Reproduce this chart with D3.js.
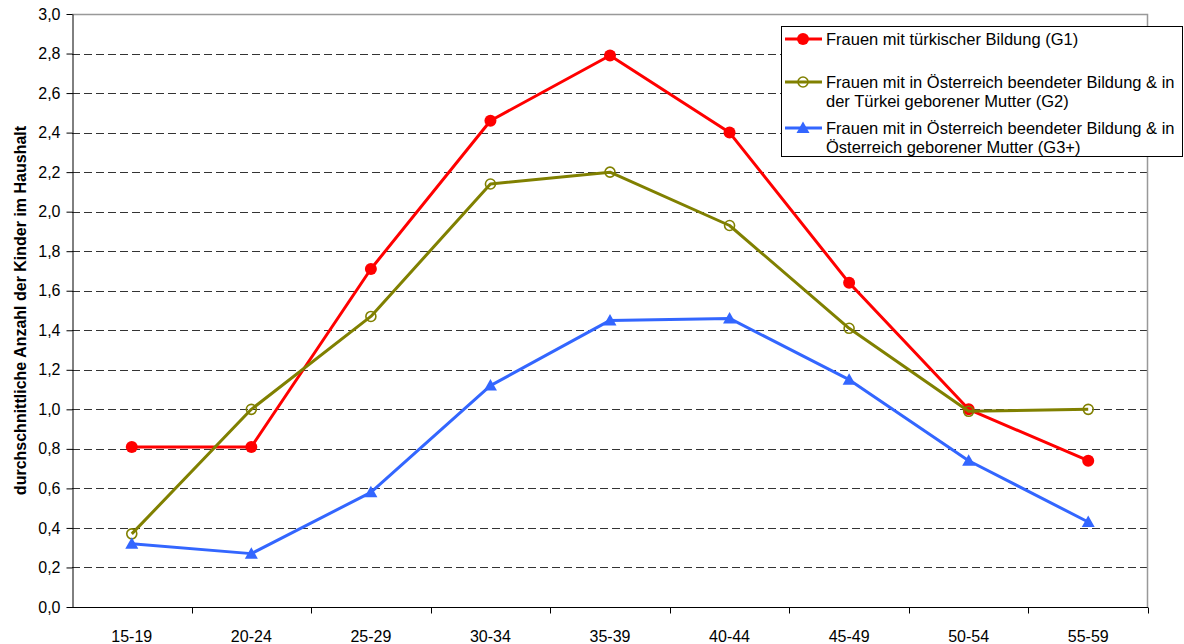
<!DOCTYPE html>
<html>
<head>
<meta charset="utf-8">
<script src="https://cdn.jsdelivr.net/npm/d3@7"></script>
<style>
  html, body { margin: 0; padding: 0; background: #fff; }
  svg { display: block; font-family: "Liberation Sans", Arial, sans-serif; }
</style>
</head>
<body>
<svg id="chart" width="1184" height="644"></svg>
<script>
// Age groups on the x axis
const ageGroups = ["15-19", "20-24", "25-29", "30-34", "35-39", "40-44", "45-49", "50-54", "55-59"];

// Average number of children in the household, per group
const g1Values = [0.81, 0.81, 1.71, 2.46, 2.79, 2.40, 1.64, 1.00, 0.74];
const g2Values = [0.37, 1.00, 1.47, 2.14, 2.20, 1.93, 1.41, 0.99, 1.00];
const g3Values = [0.32, 0.27, 0.58, 1.12, 1.45, 1.46, 1.15, 0.74, 0.43];

const yTicks = [0, 0.2, 0.4, 0.6, 0.8, 1.0, 1.2, 1.4, 1.6, 1.8, 2.0, 2.2, 2.4, 2.6, 2.8, 3.0];

const seriesNames = [
  ["Frauen mit türkischer Bildung (G1)"],
  ["Frauen mit in Österreich beendeter Bildung & in", "der Türkei geborener Mutter (G2)"],
  ["Frauen mit in Österreich beendeter Bildung & in", "Österreich geborener Mutter (G3+)"]
];

const series = [
  { name: seriesNames[0], values: g1Values, color: "#FF0000", marker: "dot" },
  { name: seriesNames[1], values: g2Values, color: "#808000", marker: "ring" },
  { name: seriesNames[2], values: g3Values, color: "#3366FF", marker: "triangle" }
];

const svg = d3.select("#chart");
const plot = { left: 72, right: 1148, top: 14, bottom: 607 };

const x = d3.scaleBand().domain(ageGroups).range([plot.left, plot.right]).padding(0);
const y = d3.scaleLinear().domain([0, 3]).range([plot.bottom, plot.top]);
const cx = d => x(d) + x.bandwidth() / 2;

// Dashed horizontal gridlines
svg.append("g")
  .selectAll("line")
  .data(yTicks.filter(t => t > 0 && t < 3))
  .join("line")
  .attr("x1", plot.left).attr("x2", plot.right)
  .attr("y1", d => Math.round(y(d)) + 0.5).attr("y2", d => Math.round(y(d)) + 0.5)
  .attr("stroke", "#333").attr("stroke-width", 1)
  .attr("stroke-dasharray", "8,4");

// Top and right frame of the plot area
svg.append("path")
  .attr("d", `M${plot.left},${plot.top + 0.5}H${plot.right - 0.5}V${plot.bottom}`)
  .attr("fill", "none").attr("stroke", "#999").attr("stroke-width", 1.5);

// Y axis
const yAxis = d3.axisLeft(y)
  .tickValues(yTicks)
  .tickFormat(d => d3.format(".1f")(d).replace(".", ","))
  .tickSize(6).tickPadding(6).tickSizeOuter(0);
const yG = svg.append("g")
  .attr("transform", `translate(${plot.left + 0.5},0)`)
  .call(yAxis);
yG.selectAll("text").attr("font-size", 16).attr("fill", "#000")
  .attr("font-family", "'Liberation Sans', Arial, sans-serif");
yG.selectAll("line, path").attr("stroke", "#000");

// X axis with ticks at category boundaries
const xAxisG = svg.append("g").attr("transform", `translate(0,${plot.bottom + 0.5})`);
xAxisG.append("line")
  .attr("x1", plot.left).attr("x2", plot.right)
  .attr("stroke", "#000").attr("stroke-width", 1);
xAxisG.selectAll("line.tick")
  .data(ageGroups.map(d => x(d)).concat([plot.right]).slice(1))
  .join("line")
  .attr("class", "tick")
  .attr("x1", d => Math.round(d) + 0.5).attr("x2", d => Math.round(d) + 0.5)
  .attr("y1", 0).attr("y2", 6)
  .attr("stroke", "#000");
xAxisG.selectAll("text")
  .data(ageGroups)
  .join("text")
  .attr("x", d => cx(d))
  .attr("y", 34)
  .attr("text-anchor", "middle")
  .attr("font-size", 16)
  .text(d => d);

// Y axis title
svg.append("text")
  .attr("transform", `translate(26,${(plot.top + plot.bottom) / 2}) rotate(-90)`)
  .attr("text-anchor", "middle")
  .attr("font-size", 16)
  .attr("font-weight", "bold")
  .text("durchschnittliche Anzahl der Kinder im Haushalt");

// Marker drawing helper
function drawMarker(g, type, color) {
  if (type === "dot") {
    g.append("circle").attr("r", 6).attr("fill", color);
  } else if (type === "ring") {
    g.append("circle").attr("r", 5).attr("fill", "none")
      .attr("stroke", color).attr("stroke-width", 1.6);
  } else {
    g.append("path").attr("d", "M0,-6.5L6.5,5L-6.5,5Z").attr("fill", color);
  }
}

const line = d3.line().x((d, i) => cx(ageGroups[i])).y(d => y(d));

series.forEach(s => {
  const g = svg.append("g");
  g.append("path")
    .attr("d", line(s.values))
    .attr("fill", "none")
    .attr("stroke", s.color)
    .attr("stroke-width", 3)
    .attr("stroke-linejoin", "round");
  s.values.forEach((v, i) => {
    const m = g.append("g").attr("transform", `translate(${cx(ageGroups[i])},${y(v)})`);
    drawMarker(m, s.marker, s.color);
  });
});

// Legend
const legend = svg.append("g");
legend.append("rect")
  .attr("x", 781.5).attr("y", 26.5).attr("width", 401).attr("height", 130)
  .attr("fill", "#fff").attr("stroke", "#000").attr("stroke-width", 1);

const legendRows = [39, 82, 128];
series.forEach((s, i) => {
  const ly = legendRows[i];
  const g = legend.append("g");
  g.append("line").attr("x1", 785).attr("x2", 822).attr("y1", ly).attr("y2", ly)
    .attr("stroke", s.color).attr("stroke-width", 3);
  const m = g.append("g").attr("transform", `translate(803,${ly})`);
  drawMarker(m, s.marker, s.color);
  s.name.forEach((t, j) => {
    g.append("text")
      .attr("x", 826).attr("y", ly + 6 + j * 19)
      .attr("font-size", 16.5)
      .text(t);
  });
});
</script>
</body>
</html>
